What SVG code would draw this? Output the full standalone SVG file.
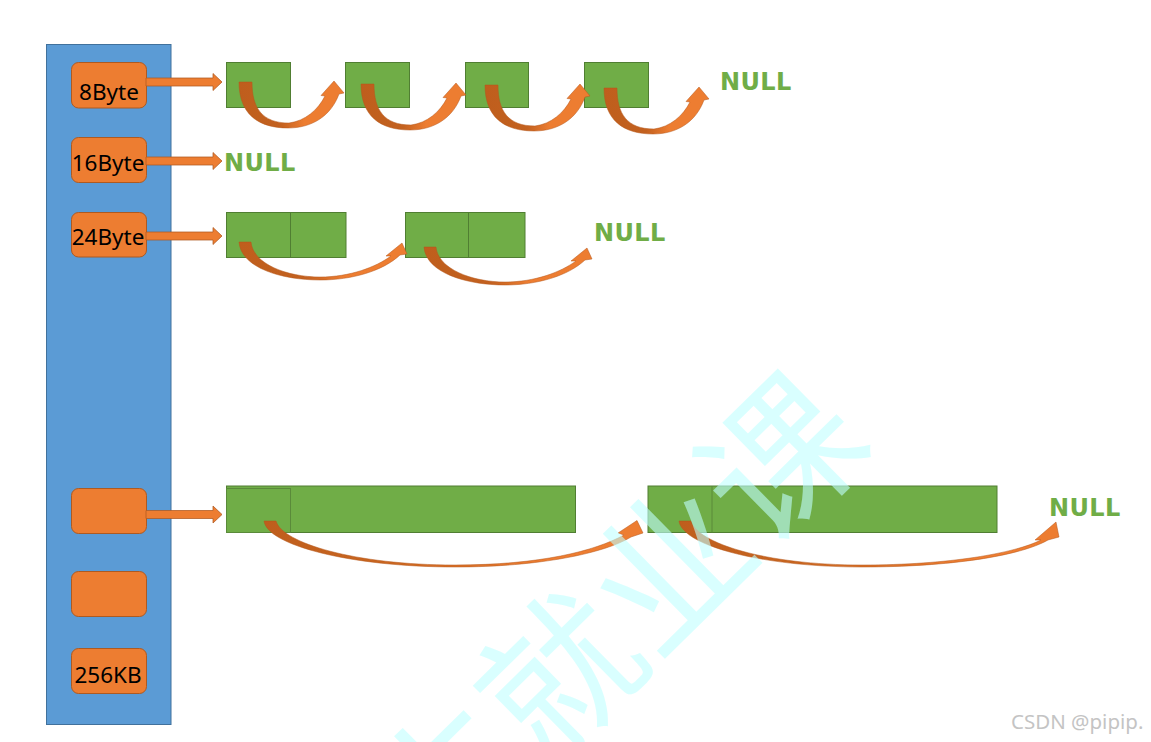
<svg xmlns="http://www.w3.org/2000/svg" width="1151" height="742" viewBox="0 0 1151 742">
<style>
.col{fill:#5b9bd5;stroke:#41719c;stroke-width:1}
.box{fill:#ed7d31;stroke:#ae5a21;stroke-width:1}
.lbl{font-family:"Noto Sans","DejaVu Sans",sans-serif;font-size:22.5px;fill:#000;text-anchor:middle}
.blk{fill:#70ad47;stroke:#507e32;stroke-width:1}
.inner{fill:none;stroke:#5a8a3a;stroke-width:1}
.null{font-family:"DejaVu Sans","Liberation Sans",sans-serif;font-weight:bold;font-size:24px;fill:#70ad47;letter-spacing:0.4px}
.arr{fill:#ed7d31;stroke:#ae5a21;stroke-width:0.75}
.curve{fill:url(#gcurve);stroke:#b5561b;stroke-width:0.5}
.curvel{fill:url(#glong);stroke:#b5561b;stroke-width:0.5}
.wm{font-family:"Noto Sans CJK SC",sans-serif;font-size:155px;fill:rgb(192,255,255);fill-opacity:0.6}
.csdn{font-family:"Noto Sans","DejaVu Sans",sans-serif;font-size:20.5px;fill:#c4c4c4}
</style>
<defs>
<linearGradient id="gcurve" x1="0" y1="0" x2="1" y2="0">
<stop offset="0" stop-color="#bf5e1d"/>
<stop offset="0.4" stop-color="#c3611f"/>
<stop offset="0.62" stop-color="#ed7d31"/>
<stop offset="1" stop-color="#ed7d31"/>
</linearGradient>
<linearGradient id="glong" x1="0" y1="0" x2="1" y2="0">
<stop offset="0" stop-color="#bf5e1d"/>
<stop offset="0.3" stop-color="#c8651f"/>
<stop offset="0.75" stop-color="#ed7d31"/>
<stop offset="1" stop-color="#ed7d31"/>
</linearGradient>
<path id="c1" d="M239,82 C239,114 258,128 288,128 C312,128 331,116 339,94 L344,93 L334,81 L321,95.5 L325,96 C318,110 305,121 289,123 C262,123 252,108 252,82 Z"/>
<path id="c3" d="M239,242 C241,268 282,280 320,280 C352,280 383,271 400,255 L407,254 L402,243 L386,256 L391,256 C376,267 350,277 320,277 C287,277 253,264 251,242 Z"/>
<path id="sa" d="M0,-4 L67,-4 L67,-8.5 L76,0 L67,8.5 L67,4 L0,4 Z"/>
</defs>

<g id="column"><rect class="col" x="46.5" y="44.5" width="124.5" height="680"/></g>

<g id="box-8byte"><rect class="box" x="71.5" y="62.5" width="75" height="45.5" rx="7"/><text class="lbl" x="109" y="100">8Byte</text></g>
<g id="box-16byte"><rect class="box" x="71.5" y="137.5" width="75" height="45" rx="7"/><text class="lbl" x="108" y="171">16Byte</text></g>
<g id="box-24byte"><rect class="box" x="71.5" y="212.5" width="75" height="44.5" rx="7"/><text class="lbl" x="108" y="245">24Byte</text></g>
<g id="box-empty1"><rect class="box" x="71.5" y="488.5" width="75" height="45" rx="7"/></g>
<g id="box-empty2"><rect class="box" x="71.5" y="571.5" width="75" height="45" rx="7"/></g>
<g id="box-256kb"><rect class="box" x="71.5" y="648.5" width="75" height="45" rx="7"/><text class="lbl" x="108" y="683">256KB</text></g>

<g id="row1-blocks">
<rect class="blk" x="226.5" y="62.5" width="64" height="45"/>
<rect class="blk" x="345.5" y="62.5" width="64" height="45"/>
<rect class="blk" x="465.5" y="62.5" width="63" height="45"/>
<rect class="blk" x="584.5" y="62.5" width="64" height="45"/>
</g>
<g id="row3-blocks">
<rect class="blk" x="226.5" y="212.5" width="64" height="45"/>
<rect class="blk" x="290.5" y="212.5" width="55.5" height="45"/>
<rect class="blk" x="405.5" y="212.5" width="63" height="45"/>
<rect class="blk" x="468.5" y="212.5" width="56.5" height="45"/>
</g>
<g id="row4-blocks">
<rect class="blk" x="226.5" y="486" width="349" height="46.5"/>
<rect class="inner" x="226.5" y="488.5" width="64" height="44"/>
<rect class="blk" x="648" y="486" width="349" height="46.5"/>
<line class="inner" x1="712" y1="486" x2="712" y2="532.5"/>
</g>

<g id="null-labels">
<text class="null" x="720" y="90">NULL</text>
<text class="null" x="224" y="171">NULL</text>
<text class="null" x="594" y="241">NULL</text>
<text class="null" x="1049" y="516">NULL</text>
</g>

<g id="connectors">
<use href="#sa" class="arr" transform="translate(146,82)"/>
<use href="#sa" class="arr" transform="translate(146,161)"/>
<use href="#sa" class="arr" transform="translate(146,236)"/>
<use href="#sa" class="arr" transform="translate(146,514.5)"/>
<use href="#c1" class="curve"/>
<use href="#c1" class="curve" transform="translate(122,2)"/>
<use href="#c1" class="curve" transform="translate(246,3)"/>
<use href="#c1" class="curve" transform="translate(365,6)"/>
<use href="#c3" class="curve"/>
<use href="#c3" class="curve" transform="translate(185,5)"/>
<path class="curvel" d="M264,521 C267,545 350,567 455,567 C540,567 605,553 631,537 L643,533 L637,520.5 L618,533 L624,535 C595,551 540,565 455,565 C355,565 282,543 276,521 Z"/>
<path class="curvel" d="M679,521 C682,545 760,567 862,567 C950,567 1020,556 1048,540 L1059,537 L1056,522 L1035,540 L1041,540 C1015,553 950,565 862,565 C765,565 697,543 691,521 Z"/>
</g>

<g id="watermark">
<text class="wm" text-anchor="middle" dominant-baseline="central" transform="translate(608,614) rotate(-44.5)">生就业课</text>
</g>
<text class="csdn" x="1011" y="729">CSDN @pipip.</text>
</svg>
